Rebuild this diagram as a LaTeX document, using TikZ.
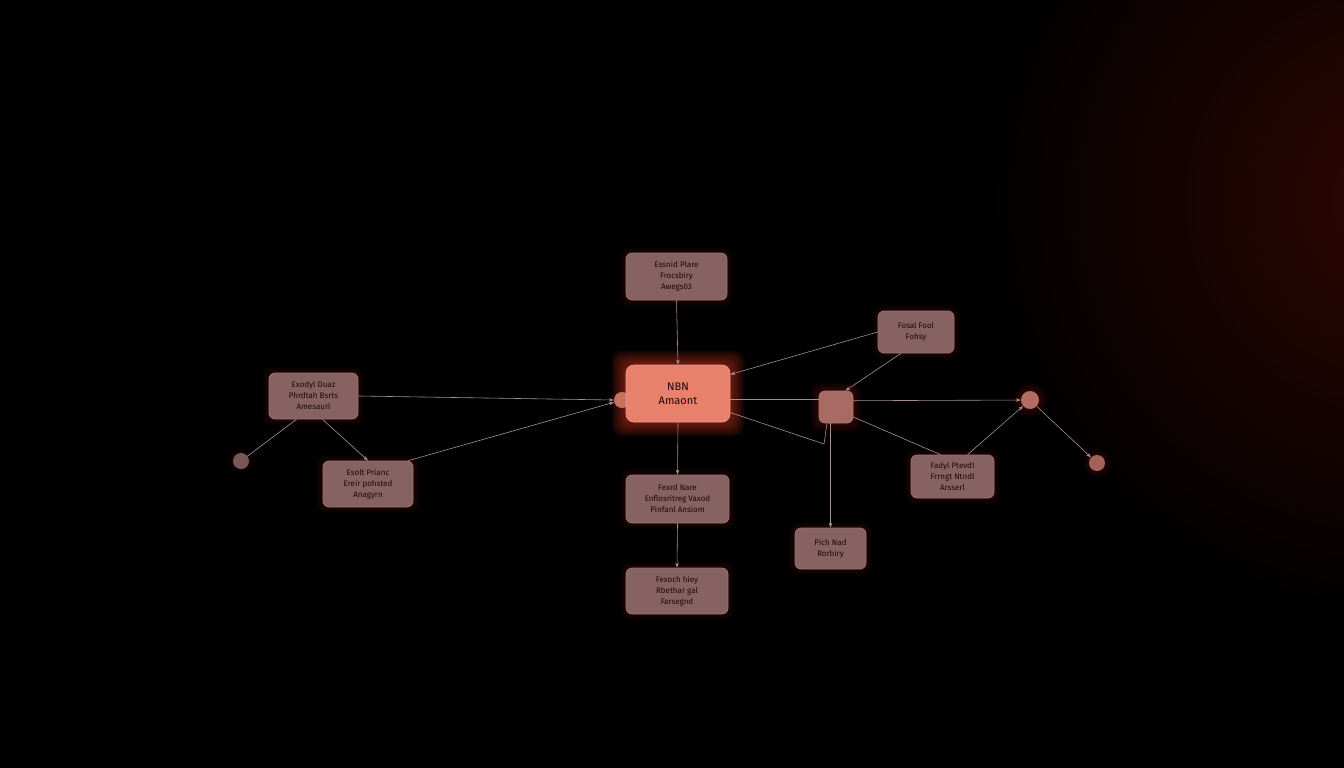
\documentclass[tikz,border=0pt]{standalone}
\usepackage{fontspec}
\setmainfont{Fira Sans}
\usetikzlibrary{arrows.meta,calc}
\definecolor{boxfill}{HTML}{876262}
\definecolor{boxedge}{HTML}{9C7474}
\definecolor{boxtext}{HTML}{1A0808}
\definecolor{mainfill}{HTML}{E8816C}
\definecolor{mainedge}{HTML}{F3968A}
\definecolor{edgecol}{HTML}{A89090}
\definecolor{cornerglow}{HTML}{2E0703}
\definecolor{haloc}{HTML}{8A2418}
\definecolor{mainhalo}{HTML}{E0402A}
\definecolor{lcircfill}{HTML}{7A5656}
\definecolor{sqedge}{HTML}{B07A70}
\definecolor{sqfill}{HTML}{A86B63}
\definecolor{rcfill}{HTML}{B46C60}
\definecolor{frcfill}{HTML}{A2625A}
\definecolor{lcfill}{HTML}{C9705E}
\pgfdeclarelayer{bg}
\pgfsetlayers{bg,main}
\newcommand\myglow[5]{%
  \foreach \k in {1,...,#3}{%
    \fill[#2, opacity=#4, rounded corners=#5]
      ($(#1.south west)+(-\k*1.2pt,-\k*1.2pt)$) rectangle ($(#1.north east)+(\k*1.2pt,\k*1.2pt)$);}}
\newcommand\myglowc[4]{%
  \foreach \k in {1,...,#3}{%
    \fill[#2, opacity=#4] (#1) circle ({\k*1.4pt+8pt});}}
\begin{document}
\begin{tikzpicture}[x=1pt,y=-1pt,
  box/.style={draw=boxedge, line width=0.7pt, fill=boxfill, rounded corners=6pt,
    align=center, text=boxtext, inner sep=0pt, font=\fontsize{8}{11}\selectfont},
  mainbox/.style={draw=mainedge, line width=0.7pt, fill=mainfill, rounded corners=8pt,
    align=center, text=boxtext, inner sep=0pt, font=\fontsize{11}{14}\selectfont,
    minimum width=104pt, minimum height=57pt},
  dot/.style={circle, inner sep=0pt, minimum size=#1},
  link/.style={draw=edgecol, line width=0.6pt},
  arr/.style={link, -{Stealth[length=5pt,width=3.5pt]}}
]
\useasboundingbox (0,0) rectangle (1344,768);

% nodes
\node[dot=16pt, fill=lcfill] (lc) at (622,400) {};
\node[mainbox] (c) at (678,393.5) {NBN\\Amaont};
\node[box, minimum width=101pt, minimum height=47pt] (top) at (676.5,276.5) {Essnid Plare\\Frocsbiry\\Awegs03};
\node[box, minimum width=89pt, minimum height=46pt] (lb) at (313.5,396) {Exodyl Duaz\\Phrdtah Bsrts\\Amesaurl};
\node[dot=16pt, fill=lcircfill] (lcirc) at (241,461) {};
\node[box, minimum width=90pt, minimum height=46pt] (ll) at (368,484) {Esolt Prianc\\Ereir pohsted\\Anagyrn};
\node[box, minimum width=103pt, minimum height=48pt] (bx) at (677.5,499) {Fexrd Nare\\Enflosritreg Vaxod\\Pinfanl Ansiom};
\node[box, minimum width=102pt, minimum height=46pt] (bt) at (677,591) {Fexoch hiey\\Rbethar gal\\Farsegnd};
\node[box, minimum width=76pt, minimum height=42pt] (tr) at (916,332) {Fosal Fool\\Fohsy};
\node[draw=sqedge, line width=0.6pt, fill=sqfill, rounded corners=6pt,
      minimum width=34pt, minimum height=32pt, inner sep=0pt] (sq) at (836,407) {};
\node[dot=18pt, fill=rcfill] (rc) at (1030,400) {};
\node[dot=16pt, fill=frcfill] (frc) at (1097,463) {};
\node[box, minimum width=83pt, minimum height=43pt] (rb) at (952.5,476.5) {Fadyl Ptevdl\\Frrngt Ntndl\\Arsserl};
\node[box, minimum width=71pt, minimum height=41pt] (pn) at (830.5,548.5) {Pich Nad\\Rorbiry};

\coordinate (bend) at (824,444);

% background and glows
\begin{pgfonlayer}{bg}
  \fill[black] (0,0) rectangle (1344,768);
  \begin{scope}
    \clip (0,0) rectangle (1344,768);
    \shade[inner color=cornerglow, outer color=black] (1400,200) circle (420);
  \end{scope}
  \myglow{c}{mainhalo}{12}{0.05}{10pt}
  \foreach \n in {top,lb,ll,bx,bt,tr,rb,pn}{\myglow{\n}{haloc}{5}{0.04}{8pt}}
  \myglow{sq}{haloc}{7}{0.05}{8pt}
  \myglowc{rc}{haloc}{7}{0.05}
  \myglowc{frc}{haloc}{5}{0.045}
  \myglowc{lcirc}{haloc}{4}{0.035}
\end{pgfonlayer}

% connectors
\draw[arr] (top.south) -- (c.north);
\draw[arr] (lb.east) -- (lc.west);
\draw[link] ($(lb.south)+(-17pt,0)$) -- (lcirc);
\draw[arr] ($(lb.south)+(9pt,0)$) -- (ll.north);
\draw[arr] ($(ll.north east)+(-5pt,0)$) -- (lc);
\draw[arr] (tr.west) -- (c.20);
\draw[arr] (tr.235) -- (sq.60);
\draw[link] (c.-6) -- (c.-6 -| sq.west);
\draw[link] (c.-20) -- (bend) -- ($(sq.south)+(-9pt,0)$);
\draw[arr] (sq.south -| pn.north) -- (pn.north);
\draw[arr] (sq.20) -- (rc);
\draw[link] (sq.-30) -- ($(rb.north)+(-12pt,0)$);
\draw[arr] ($(rb.north)+(15pt,0)$) -- (rc);
\draw[arr] (rc) -- (frc);
\draw[arr] (c.south) -- (bx.north);
\draw[arr] (bx.south) -- (bt.north);
\end{tikzpicture}
\end{document}
